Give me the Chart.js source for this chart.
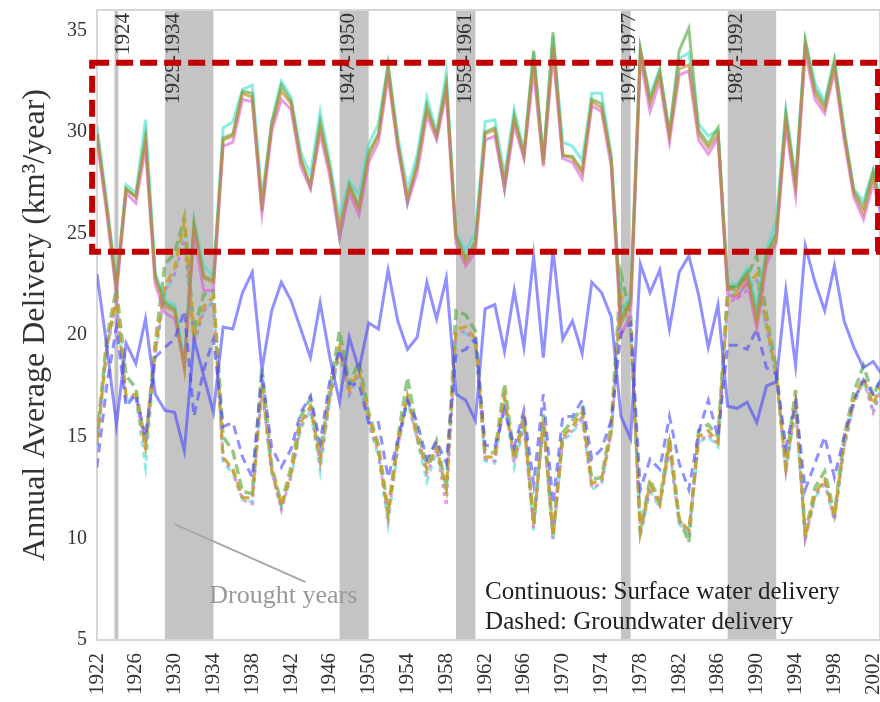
<!DOCTYPE html>
<html>
<head>
<meta charset="utf-8">
<script src="https://cdn.jsdelivr.net/npm/chart.js@4.4.1/dist/chart.umd.min.js"></script>
<style>
  html, body { margin: 0; padding: 0; background: #fff; }
  #wrap { width: 880px; height: 702px; }
</style>
</head>
<body>
<div id="wrap"><canvas id="deliveryChart" width="880" height="702"></canvas></div>
<script>
const years = [];
for (let yr = 1922; yr <= 2003; yr++) years.push(yr);

const tickYears = [1922, 1926, 1930, 1934, 1938, 1942, 1946, 1950, 1954, 1958, 1962,
  1966, 1970, 1974, 1978, 1982, 1986, 1990, 1994, 1998, 2002];
const yTicks = [5, 10, 15, 20, 25, 30, 35];

// surface water delivery (solid lines)
const surfMid = [29.9, 26.3, 22.3, 27.2, 26.8, 29.5, 22.8, 21.4, 21.2, 18.3, 25.5, 22.8, 22.6, 29.6, 29.8, 31.9, 31.7, 26.5, 30.3, 32.0,
  31.4, 28.6, 27.4, 30.2, 28.1, 25.3, 27.3, 26.2, 28.8, 29.8, 33.0, 29.4, 26.8, 28.3, 31.1, 29.8, 32.2, 24.8, 23.6, 24.4,
  29.9, 30.1, 27.6, 30.6, 28.9, 33.5, 28.4, 34.2, 28.9, 28.7, 28.0, 31.5, 31.2, 28.6, 20.6, 21.5, 33.9, 31.4, 32.8, 29.8,
  33.1, 33.3, 29.9, 29.2, 29.9, 22.3, 22.2, 23.0, 20.6, 23.8, 24.7, 30.6, 27.3, 34.2, 31.9, 31.1, 33.2, 29.9, 27.0, 26.0,
  27.8, 25.8];
const surfCyan = [30.3, 26.6, 22.6, 27.4, 27.0, 30.6, 23.1, 21.7, 21.5, 18.8, 25.7, 23.4, 22.9, 30.2, 30.5, 32.1, 32.3, 26.8, 30.5, 32.5,
  31.7, 29.0, 27.9, 31.0, 28.5, 25.8, 27.6, 26.9, 29.4, 30.4, 33.3, 29.8, 27.2, 28.9, 31.7, 30.0, 32.9, 25.0, 24.2, 25.0,
  30.5, 30.6, 27.9, 31.1, 29.1, 33.9, 28.7, 34.7, 29.5, 29.3, 28.6, 31.9, 31.9, 28.9, 21.2, 22.0, 34.1, 31.8, 33.1, 30.0,
  33.6, 33.9, 30.4, 29.8, 30.1, 22.6, 22.5, 23.3, 21.5, 24.2, 25.6, 31.1, 27.7, 34.5, 32.4, 31.5, 33.6, 30.2, 27.2, 26.6,
  28.1, 26.2];
const surfGreen = [29.9, 26.3, 22.4, 27.2, 26.8, 29.8, 22.9, 21.6, 21.3, 18.5, 25.4, 22.9, 22.7, 29.7, 29.9, 32.0, 31.9, 26.1, 30.4, 32.3,
  31.5, 28.7, 27.3, 30.5, 28.2, 24.8, 27.4, 26.3, 29.0, 29.9, 33.3, 29.5, 26.5, 28.5, 31.3, 29.8, 32.4, 24.9, 23.8, 24.6,
  30.0, 30.2, 27.2, 30.8, 28.8, 34.0, 28.6, 34.9, 28.8, 28.8, 28.1, 31.6, 31.4, 28.7, 20.8, 21.7, 34.1, 31.6, 33.0, 29.9,
  34.0, 35.1, 30.1, 29.4, 30.2, 22.4, 22.4, 23.1, 21.0, 24.0, 25.0, 30.9, 27.5, 34.5, 32.1, 31.3, 33.5, 30.0, 27.1, 26.3,
  28.1, 25.9];
const surfMagenta = [29.6, 26.0, 22.0, 27.0, 26.5, 29.2, 22.5, 21.1, 20.8, 18.6, 25.0, 22.2, 22.2, 29.3, 29.5, 31.6, 31.5, 26.0, 30.0, 31.6,
  31.1, 28.3, 27.2, 29.9, 27.8, 24.8, 27.0, 25.9, 28.5, 29.5, 32.7, 29.2, 26.5, 28.0, 30.8, 29.6, 31.9, 24.5, 23.4, 24.1,
  29.6, 29.8, 27.2, 30.3, 28.7, 33.0, 28.3, 33.8, 28.7, 28.5, 27.7, 31.3, 31.0, 28.3, 20.0, 21.0, 33.6, 31.0, 32.5, 29.5,
  32.8, 33.0, 29.6, 28.9, 29.7, 22.0, 21.8, 22.7, 20.3, 23.5, 24.5, 30.3, 26.9, 33.9, 31.6, 30.9, 33.0, 29.6, 26.8, 25.7,
  27.5, 25.5];
const surfBlue = [23.0, 19.5, 15.6, 19.6, 18.6, 20.8, 17.1, 16.3, 16.2, 14.3, 19.8, 18.0, 16.2, 20.4, 20.3, 22.1, 23.1, 18.3, 21.2, 22.6,
  21.7, 20.3, 18.9, 21.6, 18.9, 16.7, 19.9, 18.3, 20.6, 20.3, 23.2, 20.7, 19.3, 19.9, 22.6, 20.8, 22.8, 17.1, 16.8, 15.8,
  21.3, 21.5, 19.2, 22.2, 19.4, 23.9, 18.9, 24.2, 19.8, 20.7, 19.1, 22.6, 22.1, 20.9, 16.0, 14.9, 23.5, 22.1, 23.2, 20.3,
  23.1, 23.9, 22.0, 19.4, 21.5, 16.5, 16.4, 16.7, 15.7, 17.5, 17.7, 22.2, 18.5, 24.4, 22.6, 21.2, 23.4, 20.7, 19.4, 18.4,
  18.7, 18.0];

// groundwater delivery (dashed lines)
const gwMid = [14.8, 19.4, 21.9, 17.0, 17.1, 14.5, 19.3, 22.4, 23.3, 25.6, 19.8, 21.4, 21.9, 14.0, 13.4, 12.0, 12.0, 17.6, 13.4, 11.6,
  13.2, 15.7, 16.5, 13.9, 17.0, 19.4, 17.3, 18.3, 16.0, 14.4, 11.2, 14.7, 17.0, 15.0, 13.4, 14.5, 12.4, 20.3, 20.4, 19.8,
  14.0, 14.0, 17.0, 13.9, 15.8, 10.7, 15.8, 10.1, 15.0, 15.5, 16.2, 12.7, 12.9, 15.3, 22.0, 20.5, 10.3, 12.7, 11.7, 14.7,
  10.9, 10.4, 15.0, 15.3, 14.7, 21.9, 22.0, 22.5, 23.0, 20.6, 18.1, 13.5, 16.7, 10.1, 12.2, 12.9, 11.1, 14.7, 16.8, 17.9,
  16.6, 17.8];
const gwGreen = [15.0, 19.8, 22.3, 18.0, 17.4, 14.6, 19.6, 23.5, 24.0, 25.8, 20.2, 22.0, 22.2, 15.0, 14.3, 12.3, 12.2, 18.4, 13.6, 11.7,
  13.5, 16.0, 16.9, 14.1, 17.4, 20.2, 17.6, 18.7, 16.2, 14.6, 11.4, 14.9, 17.9, 15.3, 13.6, 14.8, 12.5, 21.2, 21.0, 20.2,
  14.3, 14.2, 17.6, 14.0, 16.1, 10.8, 16.1, 10.2, 15.2, 15.8, 16.4, 12.9, 13.0, 15.6, 23.0, 21.0, 10.4, 12.9, 11.8, 15.0,
  11.0, 9.8, 15.3, 15.6, 15.0, 22.3, 22.4, 22.9, 23.9, 21.0, 18.4, 13.6, 17.3, 10.2, 12.5, 13.3, 11.2, 15.0, 17.2, 18.5,
  17.0, 18.1];
const gwCyan = [14.5, 19.2, 21.6, 16.8, 16.9, 13.5, 19.0, 22.0, 23.0, 25.0, 19.5, 21.2, 21.7, 13.7, 13.2, 11.9, 11.8, 17.3, 13.2, 11.5,
  13.0, 15.4, 16.3, 13.3, 16.8, 19.1, 17.0, 18.0, 15.6, 14.1, 10.7, 14.4, 16.8, 14.8, 12.8, 14.3, 12.2, 20.0, 20.1, 19.6,
  13.8, 13.7, 16.8, 13.5, 15.5, 10.4, 15.6, 9.9, 14.8, 15.2, 15.9, 12.4, 12.7, 15.1, 21.6, 20.2, 10.1, 12.3, 11.5, 14.4,
  10.7, 10.2, 14.7, 15.0, 14.5, 21.7, 22.2, 22.3, 22.8, 20.3, 17.9, 13.2, 16.4, 9.9, 12.0, 12.7, 10.9, 14.4, 16.6, 17.7,
  16.3, 17.6];
const gwMagenta = [14.6, 19.3, 21.7, 16.9, 17.0, 14.3, 19.1, 22.2, 23.0, 24.7, 19.6, 21.2, 21.6, 13.9, 13.3, 11.9, 11.7, 17.4, 13.3, 11.4,
  13.1, 15.5, 16.4, 13.7, 16.9, 19.2, 17.1, 18.1, 15.7, 14.2, 11.0, 14.5, 16.9, 14.9, 13.2, 14.4, 11.6, 20.1, 20.2, 19.6,
  13.9, 13.8, 16.9, 13.7, 15.6, 10.5, 15.7, 10.0, 14.9, 15.3, 16.0, 12.5, 12.7, 15.2, 21.8, 20.3, 10.2, 12.5, 11.6, 14.5,
  10.8, 10.3, 14.8, 15.1, 14.6, 21.6, 21.8, 22.2, 22.7, 20.4, 18.0, 13.3, 16.5, 10.0, 12.1, 12.8, 10.9, 14.5, 16.7, 17.8,
  16.2, 17.5];
const gwBlue = [13.5, 17.5, 20.4, 16.5, 17.1, 15.0, 18.9, 19.4, 19.8, 21.2, 16.0, 18.3, 19.8, 15.5, 15.7, 14.0, 13.0, 18.1, 14.5, 13.5,
  14.4, 16.2, 17.0, 14.7, 17.8, 19.3, 17.6, 17.6, 15.7, 15.7, 13.0, 14.8, 16.8, 15.7, 13.9, 14.8, 13.7, 19.1, 19.3, 19.8,
  14.6, 14.5, 16.3, 14.5, 16.3, 12.7, 17.1, 11.7, 16.0, 16.0, 16.8, 13.9, 14.4, 15.8, 20.1, 20.6, 12.4, 13.9, 13.4, 16.0,
  13.7, 12.4, 15.2, 16.8, 15.0, 19.5, 19.5, 19.3, 20.3, 18.4, 18.1, 14.5, 16.7, 12.4, 13.7, 15.0, 13.0, 15.0, 16.8, 17.8,
  17.1, 18.0];

// drought periods
const droughtStart = [1923.8, 1929, 1947, 1959, 1976, 1987];
const droughtEnd = [1924.2, 1934, 1950, 1961, 1977, 1992];
const droughtLabels = ["1924", "1929-1934", "1947-1950", "1959-1961", "1976-1977", "1987-1992"];

const serif = '"Liberation Serif", "Times New Roman", serif';

function series(vals, color, dash, width) {
  return {
    data: years.map((yr, i) => ({ x: yr, y: vals[i] })),
    borderColor: color,
    borderDash: dash || [],
    borderWidth: width || 3,
    pointRadius: 0,
    tension: 0,
    fill: false,
  };
}

const overlay = {
  id: "overlay",
  beforeDatasetsDraw(chart) {
    const { ctx, chartArea: a, scales } = chart;
    const x = scales.x;
    ctx.save();
    ctx.fillStyle = "#c4c4c4";
    droughtStart.forEach((s, i) => {
      const x0 = x.getPixelForValue(s);
      const x1 = x.getPixelForValue(droughtEnd[i]);
      ctx.fillRect(x0, a.top, x1 - x0, a.bottom - a.top);
    });
    // frame
    ctx.strokeStyle = "#d6d6d6";
    ctx.lineWidth = 2;
    ctx.strokeRect(a.left, a.top, a.right - a.left, a.bottom - a.top);
    // band labels
    ctx.fillStyle = "#333";
    ctx.font = "21px " + serif;
    ctx.textAlign = "right";
    ctx.textBaseline = "middle";
    droughtStart.forEach((s, i) => {
      const cx = x.getPixelForValue(s) + 9;
      ctx.save();
      ctx.translate(cx, a.top + 3);
      ctx.rotate(-Math.PI / 2);
      ctx.fillText(droughtLabels[i], 0, 0);
      ctx.restore();
    });
    ctx.restore();
  },
  afterDatasetsDraw(chart) {
    const { ctx, scales } = chart;
    const x = scales.x, y = scales.y;
    ctx.save();
    // red dashed box
    const bx0 = x.getPixelForValue(1921.5), bx1 = x.getPixelForValue(2002.5);
    const by0 = y.getPixelForValue(33.4), by1 = y.getPixelForValue(24.1);
    ctx.strokeStyle = "#c00000";
    ctx.lineWidth = 6;
    ctx.setLineDash([17, 7]);
    ctx.strokeRect(bx0, by0, bx1 - bx0, by1 - by0);
    ctx.setLineDash([]);
    // drought pointer
    ctx.strokeStyle = "#a8a8a8";
    ctx.lineWidth = 2;
    ctx.beginPath();
    ctx.moveTo(x.getPixelForValue(1930), y.getPixelForValue(10.7));
    ctx.lineTo(x.getPixelForValue(1943.5), y.getPixelForValue(7.85));
    ctx.stroke();
    ctx.fillStyle = "#999";
    ctx.font = "26px " + serif;
    ctx.textAlign = "center";
    ctx.textBaseline = "middle";
    ctx.fillText("Drought years", x.getPixelForValue(1941.2), y.getPixelForValue(7.16));
    // line style notes
    ctx.fillStyle = "#222";
    ctx.font = "25px " + serif;
    ctx.textAlign = "left";
    ctx.fillText("Continuous: Surface water delivery", x.getPixelForValue(1962), y.getPixelForValue(7.36));
    ctx.fillText("Dashed: Groundwater delivery", x.getPixelForValue(1962), y.getPixelForValue(5.84));
    ctx.restore();
  },
};

const cyan = "rgba(64, 224, 208, 0.6)";
const green = "rgba(90, 170, 70, 0.65)";
const magenta = "rgba(220, 90, 220, 0.6)";
const brown = "rgba(190, 140, 50, 0.65)";
const yellow = "rgba(215, 215, 40, 0.7)";
const blue = "rgba(70, 70, 255, 0.6)";

new Chart(document.getElementById("deliveryChart"), {
  type: "line",
  data: {
    datasets: [
      series(surfBlue, blue, null, 3),
      series(gwBlue, blue, [9, 6], 3),
      series(surfMid, brown),
      series(surfMagenta, magenta),
      series(surfGreen, green),
      series(surfCyan, cyan),
      series(gwMid, brown, [9, 5]),
      series(gwMid, yellow, [9, 5]),
      series(gwMagenta, magenta, [4, 4]),
      series(gwGreen, green, [10, 5], 3.5),
      series(gwCyan, cyan, [6, 5]),
    ],
  },
  options: {
    animation: false,
    responsive: false,
    layout: { padding: { top: 10, right: 0, left: 0, bottom: 0 } },
    plugins: { legend: { display: false }, tooltip: { enabled: false } },
    scales: {
      x: {
        type: "linear",
        min: 1922,
        max: 2002.7,
        afterFit: (s) => { s.height = 62; s.paddingLeft = 0; s.paddingRight = 0; },
        afterBuildTicks: (s) => { s.ticks = tickYears.map((v) => ({ value: v })); },
        grid: { display: false, drawTicks: false },
        border: { display: false },
        ticks: {
          autoSkip: false,
          maxRotation: 90,
          minRotation: 90,
          padding: 13,
          color: "#333",
          font: { family: serif, size: 21 },
          callback: (v) => String(v),
        },
      },
      y: {
        min: 5,
        max: 36,
        afterFit: (s) => { s.width = 97; s.paddingTop = 0; s.paddingBottom = 0; },
        afterBuildTicks: (s) => { s.ticks = yTicks.map((v) => ({ value: v })); },
        grid: { display: false, drawTicks: false },
        border: { display: false },
        ticks: {
          padding: 10,
          color: "#333",
          font: { family: serif, size: 20 },
        },
        title: {
          display: true,
          text: "Annual Average Delivery (km³/year)",
          color: "#333",
          font: { family: serif, size: 32 },
          padding: { top: 16, bottom: 0 },
        },
      },
    },
  },
  plugins: [overlay],
});
</script>
</body>
</html>
